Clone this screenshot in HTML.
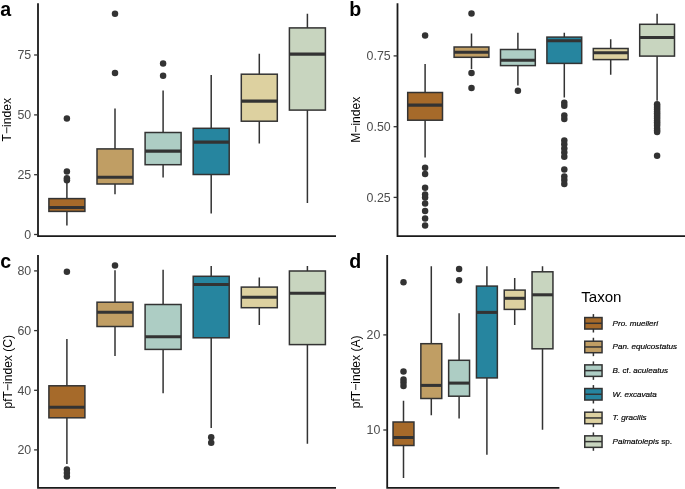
<!DOCTYPE html>
<html lang="en"><head><meta charset="utf-8"><title>Taxon index boxplots</title>
<style>html,body{margin:0;padding:0;background:#fff}svg{display:block}text{font-family:"Liberation Sans",sans-serif}.tk{font-size:12.4px;fill:#4d4d4d;text-anchor:end}.ti{font-size:12.1px;fill:#000;text-anchor:middle}.tg{font-size:19.6px;font-weight:bold;fill:#000}.lg{font-size:8.1px;fill:#000;stroke:#000;stroke-width:.18px}</style></head><body>
<svg width="685" height="489" viewBox="0 0 685 489">
<rect width="685" height="489" fill="#fff"/>
<g>
<circle cx="66.9" cy="118.4" r="3.25" fill="#333333"/>
<circle cx="66.9" cy="171.4" r="3.25" fill="#333333"/>
<circle cx="66.9" cy="178.2" r="3.25" fill="#333333"/>
<circle cx="66.9" cy="180.3" r="3.25" fill="#333333"/>
<path d="M66.9 182.8V198.6M66.9 211.4V225.4" stroke="#333333" stroke-width="1.5" fill="none"/>
<rect x="48.9" y="198.6" width="36" height="12.8" fill="#A66A2A" stroke="#333333" stroke-width="1.5"/>
<path d="M48.9 207.4H84.9" stroke="#333333" stroke-width="3.05" fill="none"/>
<circle cx="115" cy="13.8" r="3.25" fill="#333333"/>
<circle cx="115" cy="72.9" r="3.25" fill="#333333"/>
<path d="M115 108.6V148.9M115 184V194.3" stroke="#333333" stroke-width="1.5" fill="none"/>
<rect x="97" y="148.9" width="36" height="35.1" fill="#C09E64" stroke="#333333" stroke-width="1.5"/>
<path d="M97 177.2H133" stroke="#333333" stroke-width="3.05" fill="none"/>
<circle cx="163.1" cy="63.4" r="3.25" fill="#333333"/>
<circle cx="163.1" cy="75.7" r="3.25" fill="#333333"/>
<path d="M163.1 90.5V132.5M163.1 164.7V177.5" stroke="#333333" stroke-width="1.5" fill="none"/>
<rect x="145.1" y="132.5" width="36" height="32.2" fill="#ADCDC4" stroke="#333333" stroke-width="1.5"/>
<path d="M145.1 151.1H181.1" stroke="#333333" stroke-width="3.05" fill="none"/>
<path d="M211.2 74.9V128.3M211.2 174.5V213.6" stroke="#333333" stroke-width="1.5" fill="none"/>
<rect x="193.2" y="128.3" width="36" height="46.2" fill="#26859F" stroke="#333333" stroke-width="1.5"/>
<path d="M193.2 142.1H229.2" stroke="#333333" stroke-width="3.05" fill="none"/>
<path d="M259.3 53.8V74.2M259.3 121.2V143.6" stroke="#333333" stroke-width="1.5" fill="none"/>
<rect x="241.3" y="74.2" width="36" height="47" fill="#DDD1A0" stroke="#333333" stroke-width="1.5"/>
<path d="M241.3 101.1H277.3" stroke="#333333" stroke-width="3.05" fill="none"/>
<path d="M307.4 13.8V27.9M307.4 110.1V203.1" stroke="#333333" stroke-width="1.5" fill="none"/>
<rect x="289.4" y="27.9" width="36" height="82.2" fill="#C8D5BF" stroke="#333333" stroke-width="1.5"/>
<path d="M289.4 54.1H325.4" stroke="#333333" stroke-width="3.05" fill="none"/>
<path d="M38 3.2V236.2H336" stroke="#1a1a1a" stroke-width="1.8" fill="none" stroke-linecap="butt"/>
<path d="M34.1 234.5H38" stroke="#333333" stroke-width="1.3" fill="none"/>
<text class="tk" x="31.2" y="238.8">0</text>
<path d="M34.1 174.7H38" stroke="#333333" stroke-width="1.3" fill="none"/>
<text class="tk" x="31.2" y="179">25</text>
<path d="M34.1 114.9H38" stroke="#333333" stroke-width="1.3" fill="none"/>
<text class="tk" x="31.2" y="119.2">50</text>
<path d="M34.1 55H38" stroke="#333333" stroke-width="1.3" fill="none"/>
<text class="tk" x="31.2" y="59.3">75</text>
<text class="ti" transform="translate(11.2 119.7) rotate(-90)">T−index</text>
<text class="tg" x="0.3" y="16.3">a</text>
</g>
<g>
<circle cx="425.1" cy="35.5" r="3.25" fill="#333333"/>
<circle cx="425.1" cy="167.7" r="3.25" fill="#333333"/>
<circle cx="425.1" cy="174" r="3.25" fill="#333333"/>
<circle cx="425.1" cy="187.8" r="3.25" fill="#333333"/>
<circle cx="425.1" cy="194.6" r="3.25" fill="#333333"/>
<circle cx="425.1" cy="197.6" r="3.25" fill="#333333"/>
<circle cx="425.1" cy="203.6" r="3.25" fill="#333333"/>
<circle cx="425.1" cy="210.9" r="3.25" fill="#333333"/>
<circle cx="425.1" cy="218.4" r="3.25" fill="#333333"/>
<circle cx="425.1" cy="225.4" r="3.25" fill="#333333"/>
<path d="M425.1 64.1V92.5M425.1 120.2V157.6" stroke="#333333" stroke-width="1.5" fill="none"/>
<rect x="407.7" y="92.5" width="34.8" height="27.7" fill="#A66A2A" stroke="#333333" stroke-width="1.5"/>
<path d="M407.7 105.1H442.5" stroke="#333333" stroke-width="3.05" fill="none"/>
<circle cx="471.5" cy="13.6" r="3.25" fill="#333333"/>
<circle cx="471.5" cy="72.9" r="3.25" fill="#333333"/>
<circle cx="471.5" cy="88" r="3.25" fill="#333333"/>
<path d="M471.5 33.4V47M471.5 57.3V69" stroke="#333333" stroke-width="1.5" fill="none"/>
<rect x="454.1" y="47" width="34.8" height="10.3" fill="#C09E64" stroke="#333333" stroke-width="1.5"/>
<path d="M454.1 52.3H488.9" stroke="#333333" stroke-width="3.05" fill="none"/>
<circle cx="517.9" cy="90.8" r="3.25" fill="#333333"/>
<path d="M517.9 32.7V49.5M517.9 65.6V85.5" stroke="#333333" stroke-width="1.5" fill="none"/>
<rect x="500.5" y="49.5" width="34.8" height="16.1" fill="#ADCDC4" stroke="#333333" stroke-width="1.5"/>
<path d="M500.5 60.3H535.3" stroke="#333333" stroke-width="3.05" fill="none"/>
<circle cx="564.3" cy="102.7" r="3.25" fill="#333333"/>
<circle cx="564.3" cy="105.8" r="3.25" fill="#333333"/>
<circle cx="564.3" cy="115.5" r="3.25" fill="#333333"/>
<circle cx="564.3" cy="118.9" r="3.25" fill="#333333"/>
<circle cx="564.3" cy="140.4" r="3.25" fill="#333333"/>
<circle cx="564.3" cy="144.3" r="3.25" fill="#333333"/>
<circle cx="564.3" cy="148.4" r="3.25" fill="#333333"/>
<circle cx="564.3" cy="152.4" r="3.25" fill="#333333"/>
<circle cx="564.3" cy="156.7" r="3.25" fill="#333333"/>
<circle cx="564.3" cy="169.6" r="3.25" fill="#333333"/>
<circle cx="564.3" cy="176.6" r="3.25" fill="#333333"/>
<circle cx="564.3" cy="180" r="3.25" fill="#333333"/>
<circle cx="564.3" cy="183.9" r="3.25" fill="#333333"/>
<path d="M564.3 32.7V37.1M564.3 63.4V97.4" stroke="#333333" stroke-width="1.5" fill="none"/>
<rect x="546.9" y="37.1" width="34.8" height="26.3" fill="#26859F" stroke="#333333" stroke-width="1.5"/>
<path d="M546.9 40.8H581.7" stroke="#333333" stroke-width="3.05" fill="none"/>
<path d="M610.7 39.2V48.5M610.7 59.6V74.7" stroke="#333333" stroke-width="1.5" fill="none"/>
<rect x="593.3" y="48.5" width="34.8" height="11.1" fill="#DDD1A0" stroke="#333333" stroke-width="1.5"/>
<path d="M593.3 52.7H628.1" stroke="#333333" stroke-width="3.05" fill="none"/>
<circle cx="657.1" cy="104.2" r="3.25" fill="#333333"/>
<circle cx="657.1" cy="106" r="3.25" fill="#333333"/>
<circle cx="657.1" cy="107.8" r="3.25" fill="#333333"/>
<circle cx="657.1" cy="109.6" r="3.25" fill="#333333"/>
<circle cx="657.1" cy="111.4" r="3.25" fill="#333333"/>
<circle cx="657.1" cy="113.2" r="3.25" fill="#333333"/>
<circle cx="657.1" cy="115" r="3.25" fill="#333333"/>
<circle cx="657.1" cy="116.8" r="3.25" fill="#333333"/>
<circle cx="657.1" cy="118.6" r="3.25" fill="#333333"/>
<circle cx="657.1" cy="120.4" r="3.25" fill="#333333"/>
<circle cx="657.1" cy="122.2" r="3.25" fill="#333333"/>
<circle cx="657.1" cy="124" r="3.25" fill="#333333"/>
<circle cx="657.1" cy="125.8" r="3.25" fill="#333333"/>
<circle cx="657.1" cy="128.5" r="3.25" fill="#333333"/>
<circle cx="657.1" cy="130.5" r="3.25" fill="#333333"/>
<circle cx="657.1" cy="132.1" r="3.25" fill="#333333"/>
<circle cx="657.1" cy="155.8" r="3.25" fill="#333333"/>
<path d="M657.1 13.8V24.3M657.1 56.1V100.8" stroke="#333333" stroke-width="1.5" fill="none"/>
<rect x="639.7" y="24.3" width="34.8" height="31.8" fill="#C8D5BF" stroke="#333333" stroke-width="1.5"/>
<path d="M639.7 37.4H674.5" stroke="#333333" stroke-width="3.05" fill="none"/>
<path d="M397.5 3.2V236.2H685.5" stroke="#1a1a1a" stroke-width="1.8" fill="none" stroke-linecap="butt"/>
<path d="M393.6 197.4H397.5" stroke="#333333" stroke-width="1.3" fill="none"/>
<text class="tk" x="390.7" y="201.7">0.25</text>
<path d="M393.6 126.7H397.5" stroke="#333333" stroke-width="1.3" fill="none"/>
<text class="tk" x="390.7" y="131">0.50</text>
<path d="M393.6 55.9H397.5" stroke="#333333" stroke-width="1.3" fill="none"/>
<text class="tk" x="390.7" y="60.2">0.75</text>
<text class="ti" transform="translate(360.1 119.7) rotate(-90)">M−index</text>
<text class="tg" x="349.3" y="16.3">b</text>
</g>
<g>
<circle cx="66.9" cy="271.7" r="3.25" fill="#333333"/>
<circle cx="66.9" cy="469.6" r="3.25" fill="#333333"/>
<circle cx="66.9" cy="472.9" r="3.25" fill="#333333"/>
<circle cx="66.9" cy="476.6" r="3.25" fill="#333333"/>
<path d="M66.9 339.1V385.8M66.9 417.8V463.9" stroke="#333333" stroke-width="1.5" fill="none"/>
<rect x="48.9" y="385.8" width="36" height="32" fill="#A66A2A" stroke="#333333" stroke-width="1.5"/>
<path d="M48.9 407.3H84.9" stroke="#333333" stroke-width="3.05" fill="none"/>
<circle cx="115" cy="265.6" r="3.25" fill="#333333"/>
<path d="M115 270.3V302.2M115 326.5V355.9" stroke="#333333" stroke-width="1.5" fill="none"/>
<rect x="97" y="302.2" width="36" height="24.3" fill="#C09E64" stroke="#333333" stroke-width="1.5"/>
<path d="M97 312.2H133" stroke="#333333" stroke-width="3.05" fill="none"/>
<path d="M163.1 269.7V304.5M163.1 349.4V393.2" stroke="#333333" stroke-width="1.5" fill="none"/>
<rect x="145.1" y="304.5" width="36" height="44.9" fill="#ADCDC4" stroke="#333333" stroke-width="1.5"/>
<path d="M145.1 336.8H181.1" stroke="#333333" stroke-width="3.05" fill="none"/>
<circle cx="211.2" cy="437.2" r="3.25" fill="#333333"/>
<circle cx="211.2" cy="442.7" r="3.25" fill="#333333"/>
<path d="M211.2 265.9V276.3M211.2 337.8V427.9" stroke="#333333" stroke-width="1.5" fill="none"/>
<rect x="193.2" y="276.3" width="36" height="61.5" fill="#26859F" stroke="#333333" stroke-width="1.5"/>
<path d="M193.2 284.5H229.2" stroke="#333333" stroke-width="3.05" fill="none"/>
<path d="M259.3 277.5V287.1M259.3 307.7V325" stroke="#333333" stroke-width="1.5" fill="none"/>
<rect x="241.3" y="287.1" width="36" height="20.6" fill="#DDD1A0" stroke="#333333" stroke-width="1.5"/>
<path d="M241.3 297.3H277.3" stroke="#333333" stroke-width="3.05" fill="none"/>
<path d="M307.4 265.9V271M307.4 344.6V443.7" stroke="#333333" stroke-width="1.5" fill="none"/>
<rect x="289.4" y="271" width="36" height="73.6" fill="#C8D5BF" stroke="#333333" stroke-width="1.5"/>
<path d="M289.4 293.3H325.4" stroke="#333333" stroke-width="3.05" fill="none"/>
<path d="M38 255V487.9H336" stroke="#1a1a1a" stroke-width="1.8" fill="none" stroke-linecap="butt"/>
<path d="M34.1 449.9H38" stroke="#333333" stroke-width="1.3" fill="none"/>
<text class="tk" x="31.2" y="454.2">20</text>
<path d="M34.1 390.3H38" stroke="#333333" stroke-width="1.3" fill="none"/>
<text class="tk" x="31.2" y="394.6">40</text>
<path d="M34.1 330.6H38" stroke="#333333" stroke-width="1.3" fill="none"/>
<text class="tk" x="31.2" y="334.9">60</text>
<path d="M34.1 270.9H38" stroke="#333333" stroke-width="1.3" fill="none"/>
<text class="tk" x="31.2" y="275.2">80</text>
<text class="ti" transform="translate(11.5 371.75) rotate(-90)">pfT−index (C)</text>
<text class="tg" x="0.3" y="268.1">c</text>
</g>
<g>
<circle cx="403.5" cy="282.2" r="3.25" fill="#333333"/>
<circle cx="403.5" cy="371.5" r="3.25" fill="#333333"/>
<circle cx="403.5" cy="379.4" r="3.25" fill="#333333"/>
<circle cx="403.5" cy="382.5" r="3.25" fill="#333333"/>
<circle cx="403.5" cy="386.1" r="3.25" fill="#333333"/>
<path d="M403.5 400.7V422M403.5 445.5V477.9" stroke="#333333" stroke-width="1.5" fill="none"/>
<rect x="393.05" y="422" width="20.9" height="23.5" fill="#A66A2A" stroke="#333333" stroke-width="1.5"/>
<path d="M393.05 437.5H413.95" stroke="#333333" stroke-width="3.05" fill="none"/>
<path d="M431.3 266.2V343.7M431.3 398.5V415.3" stroke="#333333" stroke-width="1.5" fill="none"/>
<rect x="420.85" y="343.7" width="20.9" height="54.8" fill="#C09E64" stroke="#333333" stroke-width="1.5"/>
<path d="M420.85 385.4H441.75" stroke="#333333" stroke-width="3.05" fill="none"/>
<circle cx="459.1" cy="268.9" r="3.25" fill="#333333"/>
<circle cx="459.1" cy="280.2" r="3.25" fill="#333333"/>
<path d="M459.1 313.2V360.3M459.1 396.2V418.6" stroke="#333333" stroke-width="1.5" fill="none"/>
<rect x="448.65" y="360.3" width="20.9" height="35.9" fill="#ADCDC4" stroke="#333333" stroke-width="1.5"/>
<path d="M448.65 383.1H469.55" stroke="#333333" stroke-width="3.05" fill="none"/>
<path d="M486.9 266.2V286.1M486.9 377.9V454.8" stroke="#333333" stroke-width="1.5" fill="none"/>
<rect x="476.45" y="286.1" width="20.9" height="91.8" fill="#26859F" stroke="#333333" stroke-width="1.5"/>
<path d="M476.45 312.4H497.35" stroke="#333333" stroke-width="3.05" fill="none"/>
<path d="M514.7 278V290.1M514.7 309.4V324.9" stroke="#333333" stroke-width="1.5" fill="none"/>
<rect x="504.25" y="290.1" width="20.9" height="19.3" fill="#DDD1A0" stroke="#333333" stroke-width="1.5"/>
<path d="M504.25 298.3H525.15" stroke="#333333" stroke-width="3.05" fill="none"/>
<path d="M542.5 266.2V271.8M542.5 348.8V429.7" stroke="#333333" stroke-width="1.5" fill="none"/>
<rect x="532.05" y="271.8" width="20.9" height="77" fill="#C8D5BF" stroke="#333333" stroke-width="1.5"/>
<path d="M532.05 294.8H552.95" stroke="#333333" stroke-width="3.05" fill="none"/>
<path d="M387.2 255V487.9H559.4" stroke="#1a1a1a" stroke-width="1.8" fill="none" stroke-linecap="butt"/>
<path d="M383.3 430H387.2" stroke="#333333" stroke-width="1.3" fill="none"/>
<text class="tk" x="380.4" y="434.3">10</text>
<path d="M383.3 334.9H387.2" stroke="#333333" stroke-width="1.3" fill="none"/>
<text class="tk" x="380.4" y="339.2">20</text>
<text class="ti" transform="translate(360.4 371.85) rotate(-90)">pfT−index (A)</text>
<text class="tg" x="349.3" y="268.1">d</text>
</g>
<g>
<text x="581.2" y="301.8" style="font-size:15.1px;fill:#000">Taxon</text>
<path d="M593.4 314.1V332.5" stroke="#333333" stroke-width="1.5"/>
<rect x="584.75" y="317.55" width="17.3" height="11.5" fill="#A66A2A" stroke="#333333" stroke-width="1.5"/>
<path d="M584.75 323.3H602.05" stroke="#333333" stroke-width="1.5"/>
<text class="lg" x="612.6" y="325.8"><tspan font-style="italic">Pro. muelleri</tspan></text>
<path d="M593.4 337.76V356.16" stroke="#333333" stroke-width="1.5"/>
<rect x="584.75" y="341.21" width="17.3" height="11.5" fill="#C09E64" stroke="#333333" stroke-width="1.5"/>
<path d="M584.75 346.96H602.05" stroke="#333333" stroke-width="1.5"/>
<text class="lg" x="612.6" y="349.46"><tspan font-style="italic">Pan. equicostatus</tspan></text>
<path d="M593.4 361.42V379.82" stroke="#333333" stroke-width="1.5"/>
<rect x="584.75" y="364.87" width="17.3" height="11.5" fill="#ADCDC4" stroke="#333333" stroke-width="1.5"/>
<path d="M584.75 370.62H602.05" stroke="#333333" stroke-width="1.5"/>
<text class="lg" x="612.6" y="373.12"><tspan font-style="italic">B.</tspan> cf. <tspan font-style="italic">aculeatus</tspan></text>
<path d="M593.4 385.08V403.48" stroke="#333333" stroke-width="1.5"/>
<rect x="584.75" y="388.53" width="17.3" height="11.5" fill="#26859F" stroke="#333333" stroke-width="1.5"/>
<path d="M584.75 394.28H602.05" stroke="#333333" stroke-width="1.5"/>
<text class="lg" x="612.6" y="396.78"><tspan font-style="italic">W. excavata</tspan></text>
<path d="M593.4 408.74V427.14" stroke="#333333" stroke-width="1.5"/>
<rect x="584.75" y="412.19" width="17.3" height="11.5" fill="#DDD1A0" stroke="#333333" stroke-width="1.5"/>
<path d="M584.75 417.94H602.05" stroke="#333333" stroke-width="1.5"/>
<text class="lg" x="612.6" y="420.44"><tspan font-style="italic">T. gracilis</tspan></text>
<path d="M593.4 432.4V450.8" stroke="#333333" stroke-width="1.5"/>
<rect x="584.75" y="435.85" width="17.3" height="11.5" fill="#C8D5BF" stroke="#333333" stroke-width="1.5"/>
<path d="M584.75 441.6H602.05" stroke="#333333" stroke-width="1.5"/>
<text class="lg" x="612.6" y="444.1"><tspan font-style="italic">Palmatolepis</tspan> sp.</text>
</g>
</svg></body></html>
